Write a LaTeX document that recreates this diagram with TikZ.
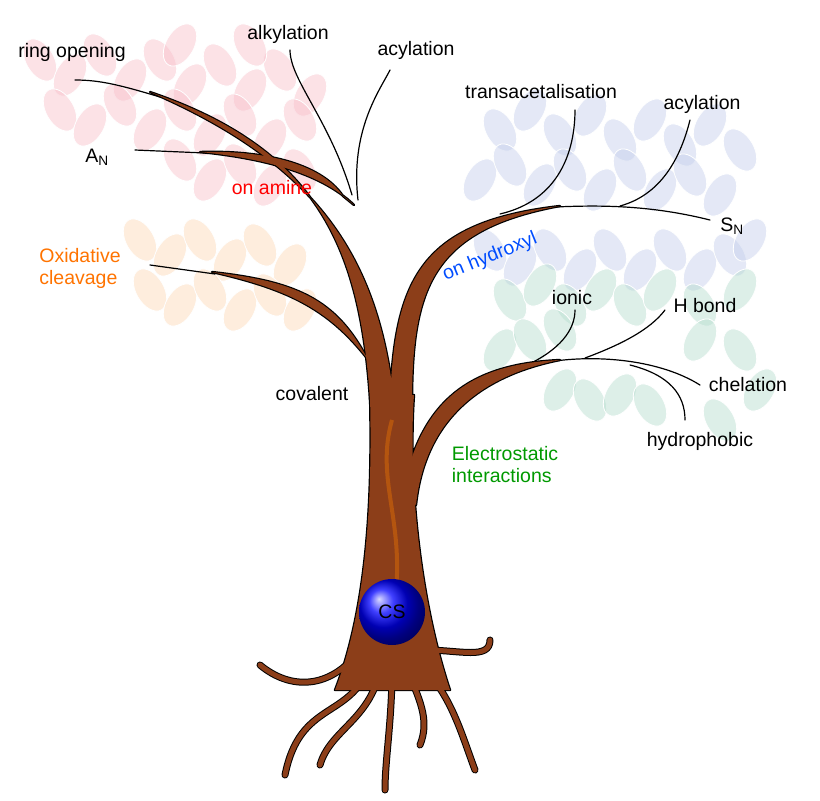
\documentclass[tikz,border=0pt]{standalone}
\usepackage{fontspec}
\setmainfont{Liberation Sans}
\usetikzlibrary{shapes.geometric}
\definecolor{bark}{RGB}{140,62,25}
\definecolor{lpink}{RGB}{248,190,200}
\definecolor{lorange}{RGB}{252,215,180}
\definecolor{lblue}{RGB}{195,205,235}
\definecolor{lgreen}{RGB}{180,220,205}
\begin{document}
\begin{tikzpicture}[x=1pt,y=-1pt,
 leaf/.style={fill=#1,fill opacity=0.45,draw=white,line width=0.8pt},
 twig/.style={draw=black,line width=1.2pt,line cap=round},
 lab/.style={font=\fontsize{19.5}{22}\selectfont,inner sep=1pt}]
\useasboundingbox (0,0) rectangle (820,801);
% leaves
\foreach \x/\y/\a in {40/60/30,70/75/-30,100/55/30,130/80/-30,160/60/30,190/85/-30,220/65/30,250/90/-30,280/70/30,310/95/-30,
 60/110/30,90/125/-30,120/105/30,150/130/-30,180/110/30,210/135/-30,240/115/30,270/140/-30,300/120/30,
 180/160/30,210/180/-30,240/165/30,270/185/-30,300/170/30,180/45/-30,250/45/30}
 {\fill[leaf=lpink,rotate around={\a:(\x,\y)}] (\x,\y) ellipse (14 and 23);}
\foreach \x/\y/\a in {140/240/30,170/255/-30,200/240/30,230/260/-30,260/245/30,290/265/-30,150/290/30,180/305/-30,210/290/30,240/310/-30,270/295/30,300/310/-30}
 {\fill[leaf=lorange,rotate around={\a:(\x,\y)}] (\x,\y) ellipse (14 and 23);}
\foreach \x/\y/\a in {500/130/30,530/110/-30,560/135/30,590/115/-30,620/140/30,650/120/-30,680/145/30,710/125/-30,740/150/30,
 480/180/-30,510/165/30,540/185/-30,570/170/30,600/190/-30,630/170/30,660/190/-30,690/175/30,720/195/-30,
 490/250/30,520/265/-30,550/250/30,580/270/-30,610/250/30,640/270/-30,670/250/30,700/270/-30,730/255/30,750/240/-30}
 {\fill[leaf=lblue,rotate around={\a:(\x,\y)}] (\x,\y) ellipse (14 and 23);}
\foreach \x/\y/\a in {510/300/30,540/285/-30,570/305/30,600/290/-30,630/305/30,660/290/-30,700/305/30,740/290/-30,
 500/350/-30,530/340/30,560/390/-30,590/400/30,620/395/-30,650/405/30,700/340/-30,740/350/30,760/390/-30,720/420/30,560/330/30}
 {\fill[leaf=lgreen,rotate around={\a:(\x,\y)}] (\x,\y) ellipse (14 and 23);}
% twigs
\draw[twig] (160,97) .. controls (120,85) and (100,80) .. (75,80);
\draw[twig] (215,274) -- (150,265);
\draw[twig] (205,153) -- (135,150);
\draw[twig] (352,195) .. controls (330,120) and (290,80) .. (290,50);
\draw[twig] (358,200) .. controls (350,130) and (380,90) .. (390,70);
\draw[twig] (555,207) .. controls (600,205) and (650,205) .. (710,220);
\draw[twig] (500,214) .. controls (560,200) and (575,150) .. (575,110);
\draw[twig] (620,206) .. controls (660,195) and (680,160) .. (690,120);
\draw[twig] (555,361) .. controls (600,355) and (660,360) .. (700,385);
\draw[twig] (525,366) .. controls (560,350) and (575,330) .. (575,310);
\draw[twig] (585,358) .. controls (620,345) and (650,330) .. (665,310);
\draw[twig] (630,365) .. controls (670,375) and (685,395) .. (685,420);
% tree shapes
\def\roots{\foreach \p in {{(360,650) .. controls (330,690) and (290,690) .. (260,665)},
 {(370,665) .. controls (350,720) and (300,700) .. (285,775)},
 {(380,670) .. controls (370,720) and (330,730) .. (320,765)},
 {(392,670) .. controls (392,720) and (385,760) .. (385,790)},
 {(405,665) .. controls (420,700) and (430,720) .. (420,745)},
 {(415,660) .. controls (450,690) and (460,730) .. (475,770)},
 {(425,650) .. controls (460,650) and (490,660) .. (490,640)}}}
\def\shapes{
 \path[treepart] (335,690) .. controls (370,600) and (372,480) .. (370,395)
   -- (414,395) .. controls (408,480) and (420,600) .. (450,690) -- cycle;
 \path[treepart] (370,400) .. controls (360,250) and (320,150) .. (150,92) .. controls (320,165) and (378,260) .. (394,400) -- cycle;
 \path[treepart] (373,370) .. controls (340,300) and (300,282) .. (212,272) .. controls (300,292) and (340,315) .. (386,385) -- cycle;
 \path[treepart] (343,196) .. controls (320,162) and (260,150) .. (200,152) .. controls (260,158) and (320,172) .. (354,205) -- cycle;
 \path[treepart] (390,400) .. controls (395,280) and (420,222) .. (560,206) .. controls (430,230) and (412,290) .. (412,405) -- cycle;
 \path[treepart] (402,495) .. controls (420,400) and (470,364) .. (560,360) .. controls (480,376) and (425,420) .. (416,505) -- cycle;}
\tikzset{treepart/.style={draw=black,line width=2.4pt,line join=round}}
\shapes
\roots {\draw[black,line width=7pt,line cap=round] \p;}
\tikzset{treepart/.style={fill=bark}}
\shapes
\roots {\draw[bark,line width=5pt,line cap=round] \p;}
\draw[orange!70!bark,line width=4pt,opacity=0.5] (395,600) .. controls (405,520) and (375,480) .. (392,420);
% ball
\shade[ball color=blue] (392,612) circle (33);
\node[lab] (cs) at (392,612) {CS};
% labels
\node[lab] (ro) at (72,52) {ring opening};
\node[lab] (al) at (288,34) {alkylation};
\node[lab] (ac1) at (416,50) {acylation};
\node[lab] (tr) at (541,92) {transacetalisation};
\node[lab] (ac2) at (702,104) {acylation};
\node[lab] (an) at (97,157) {A$_\mathrm{N}$};
\node[lab,text=red] (am) at (272,188) {on amine};
\node[lab,text=blue!70!cyan,rotate=22] (hy) at (490,257) {on hydroxyl};
\node[lab] (sn) at (732,226) {S$_\mathrm{N}$};
\node[lab,text=orange!90!red,align=left] (ox) at (80,268) {Oxidative\\cleavage};
\node[lab] (io) at (572,298) {ionic};
\node[lab] (hb) at (705,306) {H bond};
\node[lab] (ch) at (748,385) {chelation};
\node[lab] (hp) at (700,441) {hydrophobic};
\node[lab] (co) at (312,394) {covalent};
\node[lab,text=green!60!black,align=left] (el) at (505,465) {Electrostatic\\interactions};
\end{tikzpicture}
\end{document}
